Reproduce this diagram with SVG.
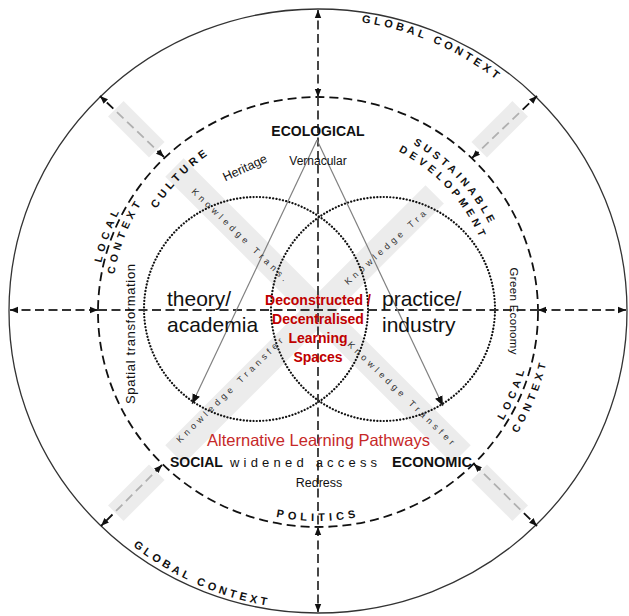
<svg xmlns="http://www.w3.org/2000/svg" width="629" height="616" viewBox="0 0 629 616">
<defs>
<style>
text{font-family:"Liberation Sans",Arial,sans-serif;fill:#111}
.cap{font-weight:bold;font-size:11px}
.cap2{font-weight:bold;font-size:10.5px}
.kt{font-size:9px;letter-spacing:3.8px;fill:#333}
.axis{fill:none;stroke:#333;stroke-width:1.8;stroke-dasharray:9 4.5}
.dashc{fill:none;stroke:#111;stroke-width:1.8;stroke-dasharray:9 5}
.dot{fill:none;stroke:#111;stroke-width:2.2;stroke-dasharray:0.1 3.2;stroke-linecap:round}
.band{fill:#e6e6e6;opacity:0.75}
.tri{stroke:#808080;stroke-width:1.2;fill:none}
.red{fill:#c00000;font-weight:bold;font-size:14px}
.big{font-size:21px}
</style>
<marker id="ah" viewBox="0 0 10 10" refX="10" refY="5" markerWidth="8" markerHeight="8" markerUnits="userSpaceOnUse" orient="auto-start-reverse"><path d="M0,1 L10,5 L0,9 z" fill="#111"/></marker>
<marker id="ah2" viewBox="0 0 10 10" refX="10" refY="5" markerWidth="10" markerHeight="10" markerUnits="userSpaceOnUse" orient="auto"><path d="M0,1 L10,5 L0,9 z" fill="#111"/></marker>
<path id="pGlobal1" d="M 284.4 20.9 A 292 292 0 0 1 552.4 136.9"/>
<path id="pGlobal2" d="M 76.9 487.8 A 299 299 0 0 0 350.6 608.2"/>
<path id="pCulture" d="M 132.7 264.8 A 191 191 0 0 1 265.4 127.4"/>
<path id="pSust" d="M 373.2 127.1 A 192 192 0 0 1 504.9 267.4"/>
<path id="pDev" d="M 369.3 139.6 A 177 177 0 0 1 490.3 270.7"/>
<path id="pLocalL" d="M 99.4 349.5 A 222 222 0 0 1 175.3 140.9"/>
<path id="pContextL" d="M 113.4 342.7 A 207 207 0 0 1 188.3 149.7"/>
<path id="pLocalR" d="M 447.9 482.4 A 215 215 0 0 0 531.3 284.2"/>
<path id="pContextR" d="M 462.7 494.9 A 234 234 0 0 0 549.6 277.7"/>
<path id="pPolitics" d="M 213 492.9 A 210 210 0 0 0 423 492.9"/>
</defs>
<rect width="629" height="616" fill="#fff"/>

<g id="outer-circle"><ellipse cx="318" cy="311" rx="309" ry="302" fill="none" stroke="#333" stroke-width="1.3"/></g>
<g id="middle-circle"><ellipse cx="318" cy="312" rx="220" ry="215" class="dashc"/></g>

<g id="bands">
<rect class="band" x="-203" y="-13" width="406" height="26" transform="translate(318,311) rotate(45)"/>
<rect class="band" x="-203" y="-13" width="368" height="26" transform="translate(318,311) rotate(-45)"/>
</g>

<g id="venn-left"><circle cx="256" cy="309" r="112" class="dot"/></g>
<g id="venn-right"><circle cx="383" cy="309" r="112" class="dot"/></g>

<g id="connectors">
<path class="axis" d="M318,97 L318,10" marker-start="url(#ah)" marker-end="url(#ah)"/>
<path class="axis" d="M318,527 L318,612" marker-start="url(#ah)" marker-end="url(#ah)"/>
<path class="axis" d="M98,310 L10,310" marker-start="url(#ah)" marker-end="url(#ah)"/>
<path class="axis" d="M538,310 L626,310" marker-start="url(#ah)" marker-end="url(#ah)"/>
<path class="axis" d="M318,97 L318,527"/>
<path class="axis" d="M98,310 L538,310"/>
<path class="dashc" d="M164,157 L100,96" marker-start="url(#ah)" marker-end="url(#ah)"/>
<path class="dashc" d="M472,158 L537,96" marker-start="url(#ah)" marker-end="url(#ah)"/>
<path class="dashc" d="M162,465 L101,526" marker-start="url(#ah)" marker-end="url(#ah)"/>
<path class="dashc" d="M474,464 L537,526" marker-start="url(#ah)" marker-end="url(#ah)"/>
<path class="tri" d="M317,140 L192,404" marker-end="url(#ah2)"/>
<path class="tri" d="M317,140 L443,406" marker-end="url(#ah2)"/>
</g>

<g id="outer-bands">
<rect class="band" x="-29" y="-11" width="58" height="22" transform="translate(136.3,129.3) rotate(45)"/>
<rect class="band" x="-29" y="-11" width="58" height="22" transform="translate(499.7,129.3) rotate(-45)"/>
<rect class="band" x="-29" y="-11" width="58" height="22" transform="translate(136.3,492.7) rotate(-45)"/>
<rect class="band" x="-29" y="-11" width="58" height="22" transform="translate(499.7,492.7) rotate(45)"/>
</g>

<g id="knowledge-transfer">
<text class="kt" transform="translate(193,190) rotate(44)" y="3">Knowledge Trans.</text>
<text class="kt" transform="translate(346,283) rotate(-42)" y="3">Knowledge Tra</text>
<text class="kt" transform="translate(178,441) rotate(-44.5)" y="3">Knowledge Transfer</text>
<text class="kt" transform="translate(349,343) rotate(44)" y="3">Knowledge Transfer</text>
</g>

<g id="global-context">
<text class="cap" letter-spacing="3.5"><textPath href="#pGlobal1" startOffset="50%" text-anchor="middle">GLOBAL CONTEXT</textPath></text>
<text class="cap" letter-spacing="3.5"><textPath href="#pGlobal2" startOffset="50%" text-anchor="middle">GLOBAL CONTEXT</textPath></text>
</g>

<g id="local-context-left">
<text class="cap2" letter-spacing="4.4"><textPath href="#pLocalL" startOffset="50%" text-anchor="middle">LOCAL</textPath></text>
<text class="cap2" letter-spacing="4.2"><textPath href="#pContextL" startOffset="50%" text-anchor="middle">CONTEXT</textPath></text>
</g>
<g id="local-context-right">
<text class="cap2" letter-spacing="4.4"><textPath href="#pLocalR" startOffset="50%" text-anchor="middle">LOCAL</textPath></text>
<text class="cap2" letter-spacing="4.2"><textPath href="#pContextR" startOffset="50%" text-anchor="middle">CONTEXT</textPath></text>
</g>

<g id="culture">
<text class="cap" letter-spacing="3.8"><textPath href="#pCulture" startOffset="50%" text-anchor="middle">CULTURE</textPath></text>
</g>
<g id="sustainable-development">
<text class="cap2" letter-spacing="3.7"><textPath href="#pSust" startOffset="50%" text-anchor="middle">SUSTAINABLE</textPath></text>
<text class="cap2" letter-spacing="4"><textPath href="#pDev" startOffset="50%" text-anchor="middle">DEVELOPMENT</textPath></text>
</g>
<g id="politics">
<text class="cap" letter-spacing="4.2"><textPath href="#pPolitics" startOffset="50%" text-anchor="middle">POLITICS</textPath></text>
</g>

<g id="ecological">
<text x="318" y="136" text-anchor="middle" font-weight="bold" font-size="14">ECOLOGICAL</text>
<text x="318" y="165" text-anchor="middle" font-size="12">Vernacular</text>
<text transform="translate(245,168) rotate(-25)" y="4" text-anchor="middle" font-size="12.5">Heritage</text>
</g>

<g id="side-labels">
<text transform="translate(135,334) rotate(-90)" text-anchor="middle" font-size="13" textLength="140" lengthAdjust="spacing">Spatial transformation</text>
<text transform="translate(510,311) rotate(90)" text-anchor="middle" font-size="11.5" textLength="87" lengthAdjust="spacing">Green Economy</text>
</g>

<g id="theory">
<text class="big" x="167" y="306">theory/</text>
<text class="big" x="167" y="332">academia</text>
</g>
<g id="practice">
<text class="big" x="382" y="306">practice/</text>
<text class="big" x="382" y="332">industry</text>
</g>

<g id="centre">
<text class="red" x="318" y="305" text-anchor="middle">Deconstructed /</text>
<text class="red" x="318" y="324" text-anchor="middle">Decentralised</text>
<text class="red" x="318" y="343" text-anchor="middle">Learning</text>
<text class="red" x="318" y="362" text-anchor="middle">Spaces</text>
</g>

<g id="alternative">
<text x="318.5" y="446" text-anchor="middle" font-size="16.5" style="fill:#c62828">Alternative Learning Pathways</text>
</g>

<g id="social-economic">
<text x="170" y="467" font-weight="bold" font-size="14">SOCIAL</text>
<text x="230" y="467" font-size="13" letter-spacing="4.2">widened access</text>
<text x="392" y="467" font-weight="bold" font-size="14" textLength="80" lengthAdjust="spacingAndGlyphs">ECONOMIC</text>
<text x="319" y="487" text-anchor="middle" font-size="12.5">Redress</text>
</g>
</svg>
